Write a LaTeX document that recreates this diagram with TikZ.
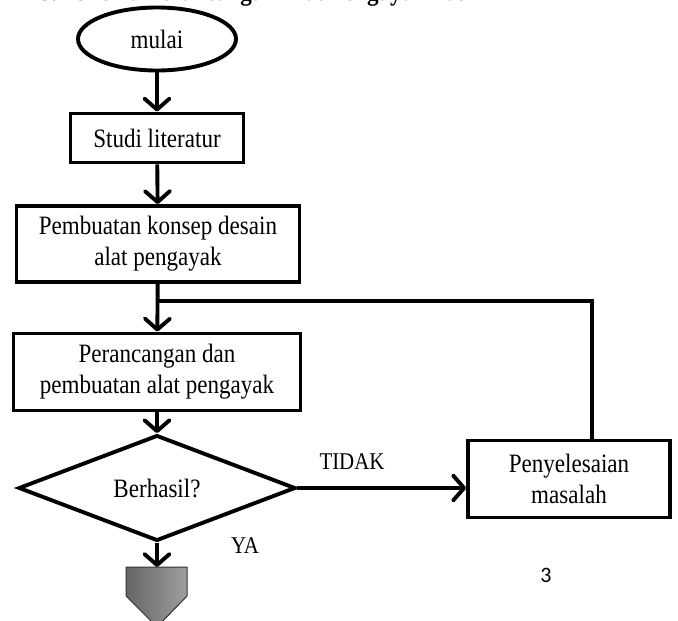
\documentclass[tikz,border=0pt]{standalone}
\usepackage{fontspec}
\setmainfont{Liberation Serif}[FakeStretch=0.87]
\newfontfamily\angkafont{Carlito}
\usetikzlibrary{shapes.geometric,arrows.meta}

\begin{document}
\begin{tikzpicture}[x=1pt, y=-1pt, line width=3.9pt,
  font=\fontsize{26.5}{31}\selectfont,
  kotak/.style={draw, rectangle, align=center, inner sep=0pt},
  panah/.style={-{Straight Barb[length=11pt,width=25pt,round]}}]
\useasboundingbox (0,0) rectangle (678,621);
% judul, terpotong di tepi atas
\node[anchor=base west, inner sep=0pt, font=\fontsize{26.5}{31}\selectfont\bfseries] (judul) at (38,0) {3.1 Skema Perancangan Alat Pengayak Pasir};
% langkah-langkah
\node[draw, ellipse, minimum width=158pt, minimum height=63pt] (mulai) at (157,39) {mulai};
\node[kotak, minimum width=173pt, minimum height=49pt] (studi) at (157,138) {Studi literatur};
\node[kotak, minimum width=283pt, minimum height=76pt] (konsep) at (158,244) {Pembuatan konsep desain\\alat pengayak};
\node[kotak, minimum width=287pt, minimum height=77pt] (rancang) at (157,372) {Perancangan dan\\pembuatan alat pengayak};
\node[draw, diamond, minimum width=277pt, minimum height=89pt, inner sep=0pt] (cek) at (157,488) {Berhasil?};
\node[kotak, minimum width=202pt, minimum height=77pt] (atasi) at (569,479) {Penyelesaian\\masalah};
% titik bantu
\coordinate (gabung) at (157,301);
\coordinate (putar) at (592,301);
\coordinate (akhir) at (157,567);
% penghubung ke halaman berikut
\draw[line width=1pt, draw=black!80, left color=black!60, right color=black!38]
  (126,567) -- (187,567) -- (187,596) -- (157,627) -- (126,596) -- cycle;
% panah
\draw[panah] (mulai) -- (studi);
\draw[panah] (studi) -- (konsep);
\draw[panah] (konsep) -- (rancang);
\draw[panah] (rancang) -- (cek);
\draw[panah] (cek.east) -- (cek.east -| atasi.west);
\draw[panah] (cek.south) -- (akhir);
\draw (atasi.north -| putar) -- (putar) -- (gabung);
% label
\node[font=\fontsize{24}{28}\selectfont] (tidak) at (352,462) {TIDAK};
\node[font=\fontsize{24}{28}\selectfont] (ya) at (245,546) {YA};
\node[font=\angkafont\fontsize{22}{26}\selectfont] (hal) at (546,575) {3};
\end{tikzpicture}
\end{document}
